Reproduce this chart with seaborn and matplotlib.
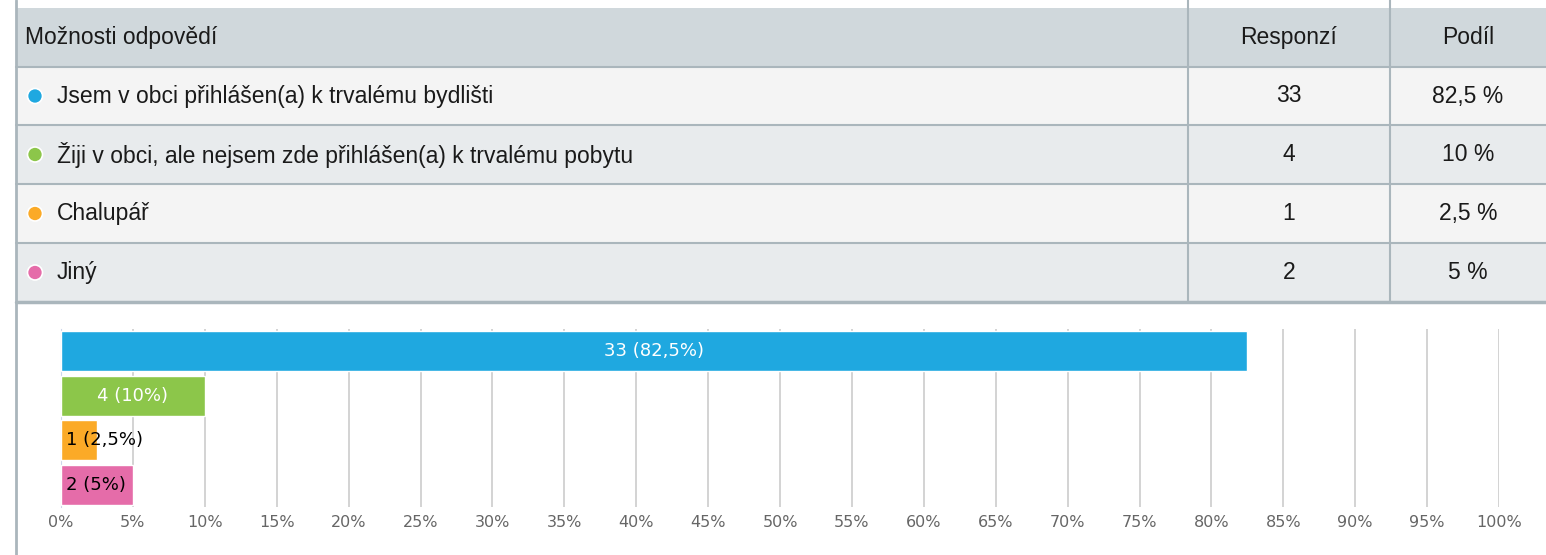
import seaborn as sns
import matplotlib.pyplot as plt
from matplotlib.patches import Rectangle, Circle
import pandas as pd

# data
options = ['Jsem v obci přihlášen(a) k trvalému bydlišti',
           'Žiji v obci, ale nejsem zde přihlášen(a) k trvalému pobytu',
           'Chalupář',
           'Jiný']
counts = [33, 4, 1, 2]
pct = [82.5, 10, 2.5, 5]
share_txt = ['82,5 %', '10 %', '2,5 %', '5 %']
bar_txt = ['33 (82,5%)', '4 (10%)', '1 (2,5%)', '2 (5%)']
colors = ['#1fa8e0', '#8cc64a', '#fbaa27', '#e56ca9']
header = ['Možnosti odpovědí', 'Responzí', 'Podíl']

sns.set_style('white')
plt.rcParams['font.family'] = ['DejaVu Sans']
tfont = ['Liberation Sans', 'DejaVu Sans']

W, H = 1546, 555
fig = plt.figure(figsize=(W / 100, H / 100), dpi=100)

# table drawn in pixel coords on a background axes
tab = fig.add_axes([0, 0, 1, 1])
tab.set_xlim(0, W)
tab.set_ylim(H, 0)
tab.axis('off')

row_y = [8, 67, 125, 184, 243, 302]
row_bg = ['#d0d8dc', '#f4f4f4', '#e8ebed', '#f4f4f4', '#e8ebed']
border = '#aab6bc'
for i in range(5):
    tab.add_patch(Rectangle((16, row_y[i]), W - 16, row_y[i + 1] - row_y[i],
                            facecolor=row_bg[i], edgecolor='none'))
    if i > 0:
        tab.plot([16, W], [row_y[i], row_y[i]], color=border, lw=1.5)
tab.plot([16, W], [row_y[5], row_y[5]], color=border, lw=2.5)
tab.plot([16, 16], [0, H], color=border, lw=2)
for x in [1188, 1390]:
    tab.plot([x, x], [0, row_y[5]], color=border, lw=1.5)

fs = 16.5
tc = '#1a1a1a'
hy = (row_y[0] + row_y[1]) / 2
tab.text(25, hy, header[0], va='center', ha='left', fontsize=fs, family=tfont, color=tc)
tab.text(1289, hy, header[1], va='center', ha='center', fontsize=fs, family=tfont, color=tc)
tab.text(1468, hy, header[2], va='center', ha='center', fontsize=fs, family=tfont, color=tc)
for i, opt in enumerate(options):
    cy = (row_y[i + 1] + row_y[i + 2]) / 2
    tab.add_patch(Circle((35, cy), 7.5, facecolor=colors[i], edgecolor='white', lw=1.2))
    tab.text(57, cy, opt, va='center', ha='left', fontsize=fs, family=tfont, color=tc)
    tab.text(1289, cy, str(counts[i]), va='center', ha='center', fontsize=fs, family=tfont, color=tc)
    tab.text(1468, cy, share_txt[i], va='center', ha='center', fontsize=fs, family=tfont, color=tc)

# bar chart
ax = fig.add_axes([61 / W, 1 - 507 / H, (1499 - 61) / W, 178 / H])
df = pd.DataFrame({'opt': options, 'pct': pct})
sns.barplot(data=df, x='pct', y='opt', hue='opt', palette=colors, saturation=1,
            orient='h', width=0.9, edgecolor='white', linewidth=1, legend=False,
            ax=ax, zorder=3)
ax.set_xlim(0, 100)
ax.set_ylim(3.5, -0.5)
ax.set_xticks(range(0, 101, 5))
ax.set_xticklabels([f'{v}%' for v in range(0, 101, 5)], fontsize=11.5, color='#666666')
ax.set_yticks([0, 2.5])
ax.set_yticklabels([])
ax.tick_params(axis='y', length=6, color='#ccd6eb', width=1)
ax.tick_params(axis='x', length=0, pad=6)
ax.grid(axis='x', color='#cccccc', lw=1.2, zorder=0)
ax.set_xlabel('')
ax.set_ylabel('')
for s in ['top', 'right', 'bottom']:
    ax.spines[s].set_visible(False)
ax.spines['left'].set_color('#ccd6eb')
ax.patch.set_alpha(0)

for i, p in enumerate(ax.patches):
    cy = p.get_y() + p.get_height() / 2
    if pct[i] >= 10:
        ax.text(p.get_width() / 2, cy, bar_txt[i], ha='center', va='center',
                color='white', fontsize=13, zorder=5)
    else:
        ax.text(0.35, cy, bar_txt[i], ha='left', va='center',
                color='black', fontsize=13, zorder=5)

fig.savefig('out.png', dpi=100)
